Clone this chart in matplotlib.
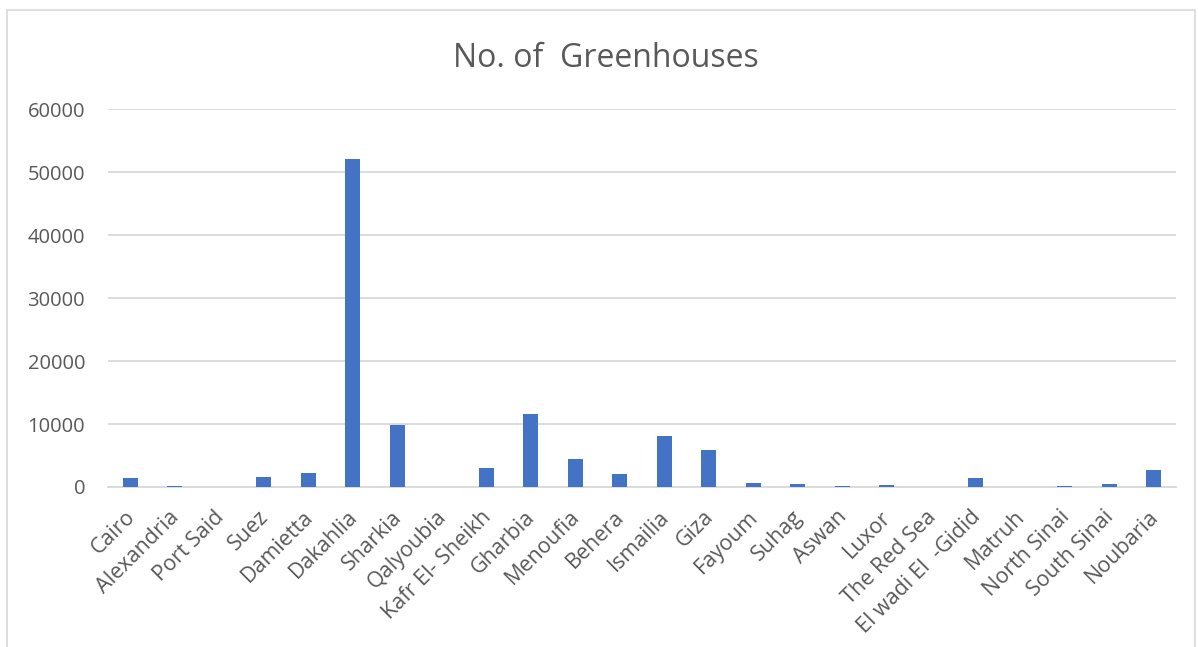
import numpy as np
import matplotlib
matplotlib.use('Agg')
import matplotlib.pyplot as plt
import matplotlib.transforms as mtransforms
from matplotlib.patches import Rectangle

governorates = ['Cairo', 'Alexandria', 'Port Said', 'Suez', 'Damietta', 'Dakahlia',
                'Sharkia', 'Qalyoubia', 'Kafr El- Sheikh', 'Gharbia', 'Menoufia',
                'Behera', 'Ismailia', 'Giza', 'Fayoum', 'Suhag', 'Aswan', 'Luxor',
                'The Red Sea', 'El wadi El  -Gidid', 'Matruh', 'North Sinai',
                'South Sinai', 'Noubaria']
greenhouses = [1430, 100, 20, 1600, 2180, 52100, 9840, 50, 2980, 11590, 4370,
               2020, 8040, 5900, 640, 480, 100, 250, 50, 1430, 10, 80, 450, 2660]
yticks = [0, 10000, 20000, 30000, 40000, 50000, 60000]

plt.rcParams['font.family'] = ['Open Sans', 'DejaVu Sans']
text_col = '#595959'
grid_col = '#d9d9d9'
bar_col = '#4472c4'

fig = plt.figure(figsize=(11.98, 6.47), dpi=100)
ax = fig.add_axes([0.0902, 0.2473, 0.8914, 0.5842])

x = np.arange(len(governorates))
ax.bar(x, greenhouses, width=0.33, color=bar_col, zorder=3)

ax.set_xlim(-0.5, len(governorates) - 0.5)
ax.set_ylim(0, 60000)
ax.set_yticks(yticks)
ax.set_yticklabels([str(v) for v in yticks])
ax.grid(axis='y', color=grid_col, linewidth=1.3, zorder=0)
for s in ['top', 'right', 'left']:
    ax.spines[s].set_visible(False)
ax.spines['bottom'].set_color(grid_col)
ax.spines['bottom'].set_linewidth(1.3)
ax.tick_params(axis='y', length=0, colors=text_col, labelsize=14.5, pad=16.5)
ax.set_xticks(x)
ax.set_xticklabels(governorates, rotation=45, ha='right', rotation_mode='anchor')
ax.tick_params(axis='x', length=0, colors=text_col, labelsize=15.5, pad=14)
# nudge rotated labels so their ends sit under the bars like in the original
shift = mtransforms.ScaledTranslation(-6 / 100, 0, fig.dpi_scale_trans)
for lbl in ax.get_xticklabels():
    lbl.set_transform(lbl.get_transform() + shift)

fig.text(0.506, 0.91, 'No. of  Greenhouses', ha='center', va='center',
         fontsize=23, color=text_col)

# light chart border
fig.patches.append(Rectangle((7 / 1198, -0.05), 1188 / 1198, 1.05 - 10 / 647,
                             transform=fig.transFigure, fill=False,
                             edgecolor=grid_col, linewidth=1.2))

fig.savefig('out.png', dpi=100)
